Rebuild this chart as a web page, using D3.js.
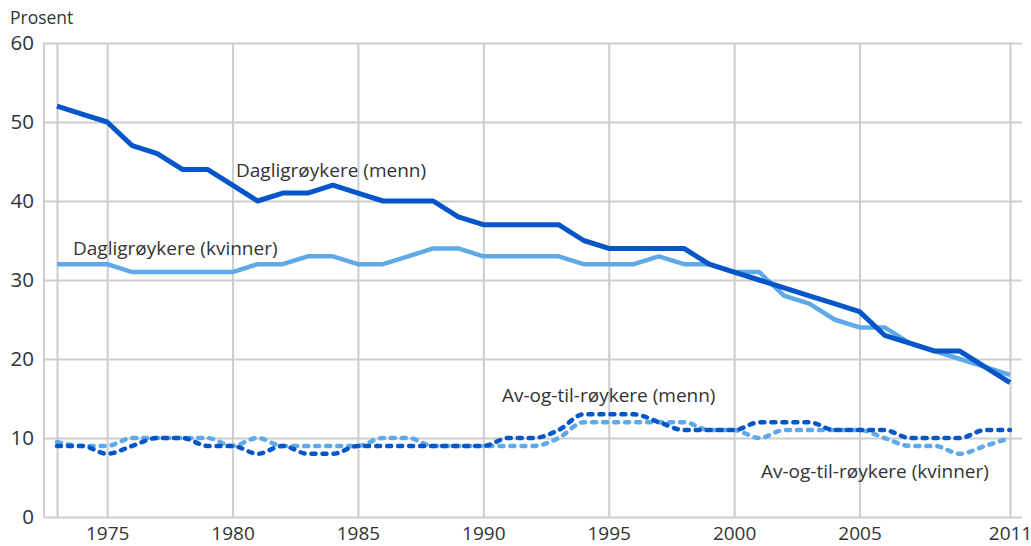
<!DOCTYPE html>
<html lang="no">
<head>
    <meta charset="UTF-8">
    <title>Røykere 1973-2011</title>
    <script src="https://d3js.org/d3.v7.min.js"></script>
    <style>
        body { margin: 0; background: #fff; }
        text { font-family: "Open Sans", "Noto Sans", sans-serif; fill: #333; }
    </style>
</head>
<body>
    <svg id="chart" width="1031" height="546"></svg>
    <script>
        // data, one value per year 1973-2011
        const years = d3.range(1973, 2012);
        const dailyMen = [52, 51, 50, 47, 46, 44, 44, 42, 40, 41, 41, 42, 41, 40, 40, 40, 38, 37, 37, 37,
            37, 35, 34, 34, 34, 34, 32, 31, 30, 29, 28, 27, 26, 23, 22, 21, 21, 19, 17];
        const dailyWomen = [32, 32, 32, 31, 31, 31, 31, 31, 32, 32, 33, 33, 32, 32, 33, 34, 34, 33, 33, 33,
            33, 32, 32, 32, 33, 32, 32, 31, 31, 28, 27, 25, 24, 24, 22, 21, 20, 19, 18];
        const occMen = [9, 9, 8, 9, 10, 10, 9, 9, 8, 9, 8, 8, 9, 9, 9, 9, 9, 9, 10, 10,
            11, 13, 13, 13, 12, 11, 11, 11, 12, 12, 12, 11, 11, 11, 10, 10, 10, 11, 11];
        const occWomen = [9.5, 9, 9, 10, 10, 10, 10, 9, 10, 9, 9, 9, 9, 10, 10, 9, 9, 9, 9, 9,
            10, 12, 12, 12, 12, 12, 11, 11, 10, 11, 11, 11, 11, 10, 9, 9, 8, 9, 10];
        const yTicks = [0, 10, 20, 30, 40, 50, 60];
        const xGrid = [1973, 1975, 1980, 1985, 1990, 1995, 2000, 2005, 2011];
        const xLabels = [1975, 1980, 1985, 1990, 1995, 2000, 2005, 2011];

        const darkBlue = '#0456c9';
        const lightBlue = '#5fa9e8';
        const gridColor = '#cdcdcd';

        const svg = d3.select('#chart');
        const plotLeft = 44, plotRight = 1022, plotTop = 43, plotBottom = 517;

        const x = d3.scaleLinear().domain([1973, 2011]).range([57, 1010]);
        const y = d3.scaleLinear().domain([0, 60]).range([plotBottom, plotTop]);

        // horizontal grid + y labels
        const yAxis = svg.append('g')
            .attr('transform', `translate(${plotLeft},0)`)
            .call(d3.axisLeft(y).tickValues(yTicks).tickSize(-(plotRight - plotLeft)).tickPadding(10));
        yAxis.select('.domain').remove();
        yAxis.selectAll('line').attr('stroke', gridColor).attr('stroke-width', 2);
        yAxis.selectAll('text')
            .style('font-size', '20.5px')
            .attr('fill', '#333');

        // vertical grid + x labels
        const xAxis = svg.append('g')
            .attr('transform', `translate(0,${plotBottom})`)
            .call(d3.axisBottom(x).tickValues(xGrid).tickSize(-(plotBottom - plotTop)).tickPadding(10)
                .tickFormat(d => xLabels.includes(d) ? d : ''));
        xAxis.select('.domain').remove();
        xAxis.selectAll('line').attr('stroke', gridColor).attr('stroke-width', 2);
        xAxis.selectAll('text')
            .style('font-size', '19px')
            .attr('fill', '#333');

        // left axis line
        svg.append('line')
            .attr('x1', plotLeft).attr('x2', plotLeft)
            .attr('y1', plotTop).attr('y2', plotBottom)
            .attr('stroke', gridColor).attr('stroke-width', 2);

        svg.append('text')
            .attr('x', 10).attr('y', 24)
            .style('font-size', '17.5px')
            .text('Prosent');

        const solid = d3.line().x((d, i) => x(years[i])).y(d => y(d));
        const smooth = d3.line().x((d, i) => x(years[i])).y(d => y(d)).curve(d3.curveMonotoneX);

        svg.append('path').datum(occWomen)
            .attr('d', smooth).attr('fill', 'none')
            .attr('stroke', lightBlue).attr('stroke-width', 4.5)
            .attr('stroke-linecap', 'round').attr('stroke-dasharray', '4,7');
        svg.append('path').datum(occMen)
            .attr('d', smooth).attr('fill', 'none')
            .attr('stroke', darkBlue).attr('stroke-width', 4.5)
            .attr('stroke-linecap', 'round').attr('stroke-dasharray', '4,7');
        svg.append('path').datum(dailyWomen)
            .attr('d', solid).attr('fill', 'none')
            .attr('stroke', lightBlue).attr('stroke-width', 4.5)
            .attr('stroke-linejoin', 'round');
        svg.append('path').datum(dailyMen)
            .attr('d', solid).attr('fill', 'none')
            .attr('stroke', darkBlue).attr('stroke-width', 5)
            .attr('stroke-linejoin', 'round');

        // series labels
        const labels = [
            { text: 'Dagligrøykere (menn)', x: 236, y: 177 },
            { text: 'Dagligrøykere (kvinner)', x: 73, y: 255 },
            { text: 'Av-og-til-røykere (menn)', x: 502, y: 402 },
            { text: 'Av-og-til-røykere (kvinner)', x: 761, y: 478 }
        ];
        svg.selectAll('.series-label').data(labels).enter().append('text')
            .attr('class', 'series-label')
            .attr('x', d => d.x).attr('y', d => d.y)
            .style('font-size', '19px')
            .text(d => d.text);
    </script>
</body>
</html>
